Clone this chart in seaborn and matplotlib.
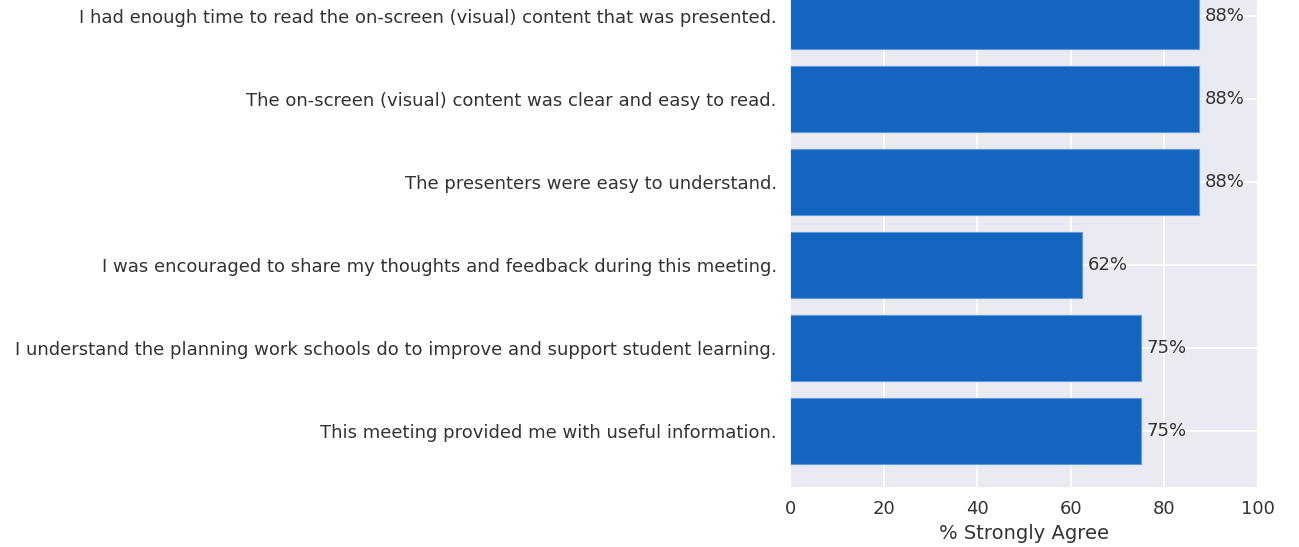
import seaborn as sns
import matplotlib.pyplot as plt
import pandas as pd

statements = [
    "I had enough time to read the on-screen (visual) content that was presented.",
    "The on-screen (visual) content was clear and easy to read.",
    "The presenters were easy to understand.",
    "I was encouraged to share my thoughts and feedback during this meeting.",
    "I understand the planning work schools do to improve and support student learning.",
    "This meeting provided me with useful information.",
]
pct_strongly_agree = [87.5, 87.5, 87.5, 62.5, 75.0, 75.0]

df = pd.DataFrame({"statement": statements, "pct": pct_strongly_agree})

sns.set_theme(style="darkgrid")
plt.rcParams["font.family"] = ["DejaVu Sans"]

fig = plt.figure(figsize=(12.99, 5.47), dpi=100)
ax = fig.add_axes([0.6082, 0.1079, 0.3602, 0.967])

sns.barplot(
    data=df,
    x="pct",
    y="statement",
    orient="h",
    color="#1565C0",
    saturation=1,
    width=0.8,
    edgecolor="#5a9ae0",
    linewidth=0.8,
    ax=ax
)

for bar, v in zip(ax.patches, pct_strongly_agree):
    ax.text(
        bar.get_width() + 1.2,
        bar.get_y() + bar.get_height() / 2,
        f"{v:.0f}%",
        va="center",
        ha="left",
        fontsize=13,
        color="#333333"
    )

ax.set_xlim(0, 100)
ax.set_ylim(5.69, -0.69)
ax.set_xticks([0, 20, 40, 60, 80, 100])
ax.grid(True, color="white", linewidth=1.3)
ax.set_axisbelow(True)
ax.tick_params(axis="both", labelsize=13, colors="#333333", length=0)
ax.tick_params(axis="y", pad=9.5)
ax.tick_params(axis="x", pad=9)
ax.set_xlabel("% Strongly Agree", fontsize=14, color="#333333", labelpad=4)
ax.set_ylabel("")

plt.savefig("out.png", dpi=100)
